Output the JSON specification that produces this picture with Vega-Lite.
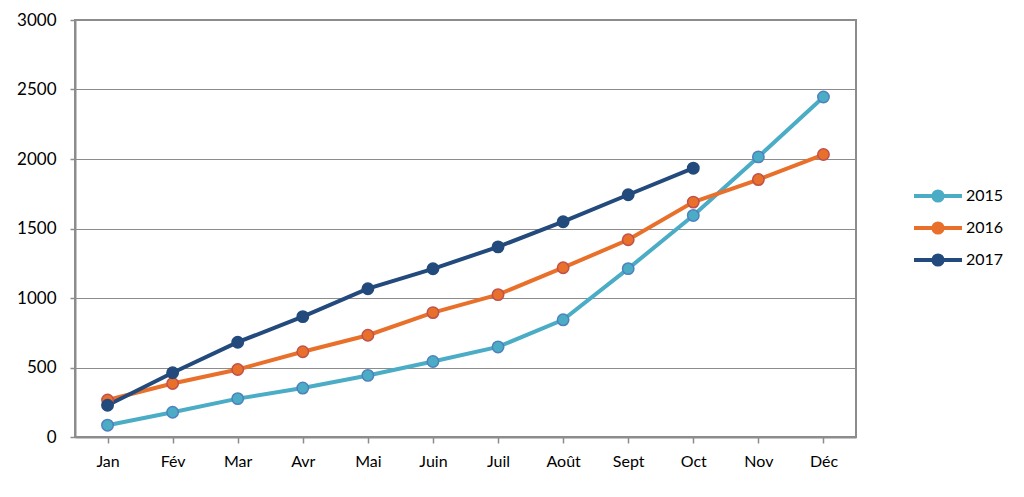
{
  "$schema": "https://vega.github.io/schema/vega-lite/v6.json",
  "autosize": "none",
  "width": 781,
  "height": 417,
  "padding": {"left": 75, "top": 20, "right": 168, "bottom": 60},
  "background": "white",
  "config": {
    "font": "Lato",
    "view": {"stroke": "#8c8c8c", "strokeWidth": 2},
    "axis": {"labelColor": "black", "labelFont": "Lato", "domainColor": "#8c8c8c", "tickColor": "#8c8c8c", "domainWidth": 2, "tickWidth": 1.5}
  },
  "data": {
    "values": [
      {"mois": "Jan", "annee": "2015", "valeur": 85},
      {"mois": "Fév", "annee": "2015", "valeur": 178},
      {"mois": "Mar", "annee": "2015", "valeur": 276},
      {"mois": "Avr", "annee": "2015", "valeur": 352},
      {"mois": "Mai", "annee": "2015", "valeur": 443},
      {"mois": "Juin", "annee": "2015", "valeur": 543},
      {"mois": "Juil", "annee": "2015", "valeur": 648},
      {"mois": "Août", "annee": "2015", "valeur": 843},
      {"mois": "Sept", "annee": "2015", "valeur": 1211},
      {"mois": "Oct", "annee": "2015", "valeur": 1594},
      {"mois": "Nov", "annee": "2015", "valeur": 2015},
      {"mois": "Déc", "annee": "2015", "valeur": 2446},
      {"mois": "Jan", "annee": "2016", "valeur": 266},
      {"mois": "Fév", "annee": "2016", "valeur": 385},
      {"mois": "Mar", "annee": "2016", "valeur": 486},
      {"mois": "Avr", "annee": "2016", "valeur": 613},
      {"mois": "Mai", "annee": "2016", "valeur": 732},
      {"mois": "Juin", "annee": "2016", "valeur": 895},
      {"mois": "Juil", "annee": "2016", "valeur": 1024},
      {"mois": "Août", "annee": "2016", "valeur": 1218},
      {"mois": "Sept", "annee": "2016", "valeur": 1419},
      {"mois": "Oct", "annee": "2016", "valeur": 1690},
      {"mois": "Nov", "annee": "2016", "valeur": 1852},
      {"mois": "Déc", "annee": "2016", "valeur": 2032},
      {"mois": "Jan", "annee": "2017", "valeur": 228},
      {"mois": "Fév", "annee": "2017", "valeur": 462},
      {"mois": "Mar", "annee": "2017", "valeur": 682},
      {"mois": "Avr", "annee": "2017", "valeur": 866},
      {"mois": "Mai", "annee": "2017", "valeur": 1067},
      {"mois": "Juin", "annee": "2017", "valeur": 1210},
      {"mois": "Juil", "annee": "2017", "valeur": 1368},
      {"mois": "Août", "annee": "2017", "valeur": 1549},
      {"mois": "Sept", "annee": "2017", "valeur": 1743},
      {"mois": "Oct", "annee": "2017", "valeur": 1934}
    ]
  },
  "encoding": {
    "x": {
      "field": "mois", "type": "ordinal",
      "sort": ["Jan", "Fév", "Mar", "Avr", "Mai", "Juin", "Juil", "Août", "Sept", "Oct", "Nov", "Déc"],
      "title": null,
      "scale": {"paddingInner": 0, "paddingOuter": 0},
      "axis": {"labelAngle": 0, "labelFontSize": 16, "tickSize": 6, "bandPosition": 0, "labelPadding": 10, "grid": false}
    },
    "y": {
      "field": "valeur", "type": "quantitative",
      "title": null,
      "scale": {"domain": [0, 3000], "nice": false},
      "axis": {"values": [0, 500, 1000, 1500, 2000, 2500, 3000], "format": "d", "labelFontSize": 17, "tickSize": 5, "labelPadding": 14, "gridColor": "#8c8c8c", "gridWidth": 1}
    },
    "color": {
      "field": "annee", "type": "nominal",
      "scale": {"domain": ["2015", "2016", "2017"], "range": ["#4BACC6", "#E8702A", "#234A7C"]},
      "legend": {
        "title": null,
        "orient": "none",
        "legendX": 849,
        "legendY": 162,
        "padding": 0,
        "labelFontSize": 16,
        "labelColor": "black",
        "labelOffset": 14,
        "rowPadding": 5,
        "symbolType": "M-2,0L2,0M0.38,0A0.38,0.38,0,1,1,-0.38,0A0.38,0.38,0,1,1,0.38,0Z",
        "symbolSize": 576,
        "symbolStrokeWidth": 4,
        "encode": {"symbols": {"update": {"fill": {"scale": "color", "field": "value"}}}}
      }
    }
  },
  "layer": [
    {"mark": {"type": "line", "strokeWidth": 4}},
    {
      "mark": {"type": "point", "filled": true, "size": 130, "strokeWidth": 1.5, "opacity": 1},
      "encoding": {
        "stroke": {
          "field": "annee", "type": "nominal",
          "scale": {"domain": ["2015", "2016", "2017"], "range": ["#4F81BD", "#C0504D", "#234A7C"]},
          "legend": null
        }
      }
    }
  ]
}
